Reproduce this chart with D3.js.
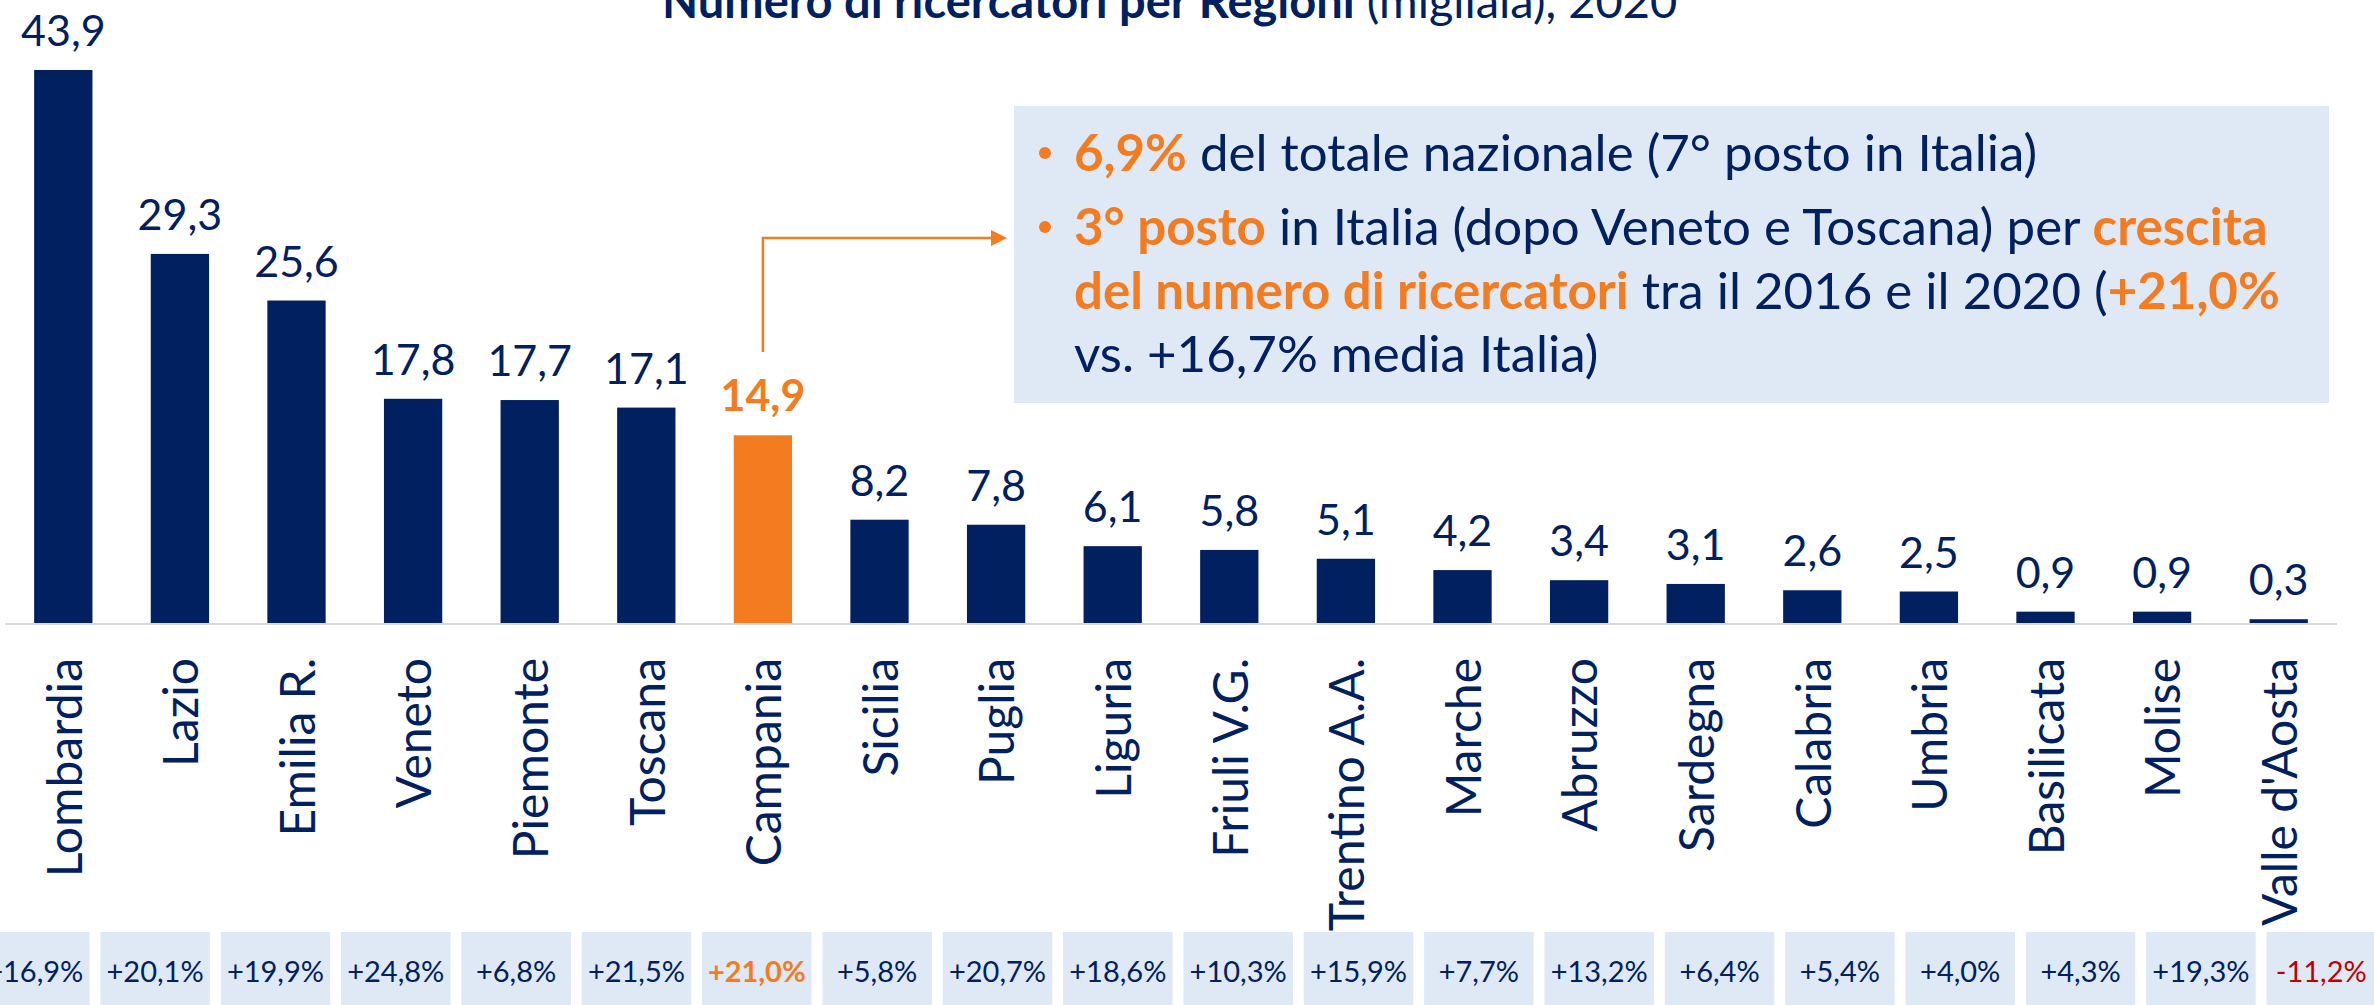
<!DOCTYPE html>
<html>
<head>
<meta charset="utf-8">
<script src="https://cdn.jsdelivr.net/npm/d3@7"></script>
<style>
	body { margin:0; background:#fff; }
	svg text { font-family: "Lato", "Liberation Sans", sans-serif; }
</style>
</head>
<body>
<svg width="2374" height="1005"></svg>
<script>
// dati
var regioni = ["Lombardia","Lazio","Emilia R.","Veneto","Piemonte","Toscana","Campania","Sicilia","Puglia","Liguria",
	"Friuli V.G.","Trentino A.A.","Marche","Abruzzo","Sardegna","Calabria","Umbria","Basilicata","Molise","Valle d'Aosta"];
var ricercatori = [43.9,29.3,25.6,17.8,17.7,17.1,14.9,8.2,7.8,6.1,5.8,5.1,4.2,3.4,3.1,2.6,2.5,0.9,0.9,0.3];
var crescita = [16.9,20.1,19.9,24.8,6.8,21.5,21.0,5.8,20.7,18.6,10.3,15.9,7.7,13.2,6.4,5.4,4.0,4.3,19.3,-11.2];
var evidenziata = "Campania";

var titoloBold = "Numero di ricercatori per Regioni";
var titoloReg = " (migliaia), 2020";

// righe del box (o = arancio grassetto)
var boxRighe = [
	{ bullet:true, parti:[ {t:"6,9%", o:1}, {t:" del totale nazionale (7° posto in Italia)"} ] },
	{ bullet:true, parti:[ {t:"3° posto", o:1}, {t:" in Italia (dopo Veneto e Toscana) per "}, {t:"crescita", o:1} ] },
	{ bullet:false, parti:[ {t:"del numero di ricercatori", o:1}, {t:" tra il 2016 e il 2020 ("}, {t:"+21,0%", o:1} ] },
	{ bullet:false, parti:[ {t:"vs. +16,7% media Italia)"} ] }
];

var navy = "#002060", orange = "#F47C20", lightBlue = "#DEE9F5", red = "#C00000";

svg = d3.select("svg");
widthSvg = +svg.attr("width");
heightSvg = +svg.attr("height");

x = d3.scaleBand()
		.domain(regioni)
		.range([5, 2337])
		.paddingInner(0.5)
		.paddingOuter(0.25)
;
y = d3.scaleLinear()
		.domain([0, 43.9])
		.range([623, 70])
;
xBox = d3.scaleBand()
		.domain(regioni)
		.range([-20, 2376])
		.paddingInner(0.09)
		.paddingOuter(0)
;

function fmt(v) { return v.toFixed(1).replace(".", ","); }
function fmtPct(v) { return (v >= 0 ? "+" : "-") + Math.abs(v).toFixed(1).replace(".", ",") + "%"; }

// titolo
title = svg.append("text")
		.attr("x", 662)
		.attr("y", 18)
		.attr("font-size", 47)
		.attr("fill", navy)
;
title.append("tspan").attr("font-weight", "bold").text(titoloBold);
title.append("tspan").text(titoloReg);

// barre
gist = svg.append("g").attr("class", "gist");

gist.selectAll("rect.bar")
	.data(regioni)
	.enter().append("rect")
		.attr("class", "bar")
		.attr("x", function(d) { return x(d); })
		.attr("y", function(d, i) { return y(ricercatori[i]); })
		.attr("width", x.bandwidth())
		.attr("height", function(d, i) { return y(0) - y(ricercatori[i]); })
		.attr("fill", function(d) { return d == evidenziata ? orange : navy; })
;

// linea base
svg.append("line")
		.attr("x1", x.range()[0])
		.attr("x2", x.range()[1])
		.attr("y1", y(0) + 1)
		.attr("y2", y(0) + 1)
		.attr("stroke", "#D9D9D9")
		.attr("stroke-width", 2)
;

// etichette valori
gist.selectAll("text.val")
	.data(regioni)
	.enter().append("text")
		.attr("class", "val")
		.attr("x", function(d) { return x(d) + x.bandwidth() / 2; })
		.attr("y", function(d, i) { return y(ricercatori[i]) - 24; })
		.attr("text-anchor", "middle")
		.attr("font-size", 43)
		.attr("font-weight", function(d) { return d == evidenziata ? "bold" : "normal"; })
		.attr("fill", function(d) { return d == evidenziata ? orange : navy; })
		.text(function(d, i) { return fmt(ricercatori[i]); })
;

// etichette regioni (ruotate)
svg.append("g").attr("class", "asisX")
	.selectAll("text")
	.data(regioni)
	.enter().append("text")
		.attr("transform", function(d) { return "translate(" + [x(d) + x.bandwidth() / 2, 658] + ") rotate(-90)"; })
		.attr("dy", "0.38em")
		.attr("text-anchor", "end")
		.attr("font-size", 48)
		.attr("fill", navy)
		.text(function(d) { return d; })
;

// box crescita 2016-2020
boxes = svg.append("g").attr("class", "growth");
boxes.selectAll("rect")
	.data(regioni)
	.enter().append("rect")
		.attr("x", function(d) { return xBox(d); })
		.attr("y", 932)
		.attr("width", xBox.bandwidth())
		.attr("height", 80)
		.attr("fill", lightBlue)
;
boxes.selectAll("text")
	.data(regioni)
	.enter().append("text")
		.attr("x", function(d) { return xBox(d) + xBox.bandwidth() / 2; })
		.attr("y", 982)
		.attr("text-anchor", "middle")
		.attr("font-size", 29)
		.attr("font-weight", function(d) { return d == evidenziata ? "bold" : "normal"; })
		.attr("fill", function(d, i) { return d == evidenziata ? orange : (crescita[i] < 0 ? red : navy); })
		.text(function(d, i) { return fmtPct(crescita[i]); })
;

// box annotazione
note = svg.append("g").attr("class", "note");
note.append("rect")
		.attr("x", 1014)
		.attr("y", 106)
		.attr("width", 2329 - 1014)
		.attr("height", 403 - 106)
		.attr("fill", lightBlue)
;
var righeY = [171, 245, 308.5, 372];
boxRighe.forEach(function(r, i) {
	if (r.bullet) {
		note.append("circle")
				.attr("cx", 1045)
				.attr("cy", righeY[i] - 18)
				.attr("r", 6)
				.attr("fill", orange)
		;
	}
	t = note.append("text")
			.attr("x", 1074)
			.attr("y", righeY[i])
			.attr("font-size", 51)
			.attr("fill", navy)
	;
	r.parti.forEach(function(p) {
		t.append("tspan")
			.attr("fill", p.o ? orange : navy)
			.attr("font-weight", p.o ? "bold" : "normal")
			.text(p.t)
		;
	});
});

// freccia dalla barra evidenziata
var cx = x(evidenziata) + x.bandwidth() / 2;
line = d3.line().x(function(d) { return d[0]; }).y(function(d) { return d[1]; });
svg.append("path")
		.attr("d", line([[cx, 352], [cx, 238], [993, 238]]))
		.attr("fill", "none")
		.attr("stroke", orange)
		.attr("stroke-width", 2.5)
;
svg.append("path")
		.attr("d", line([[991, 230], [1007, 238], [991, 246]]) + "Z")
		.attr("fill", orange)
;
</script>
</body>
</html>
